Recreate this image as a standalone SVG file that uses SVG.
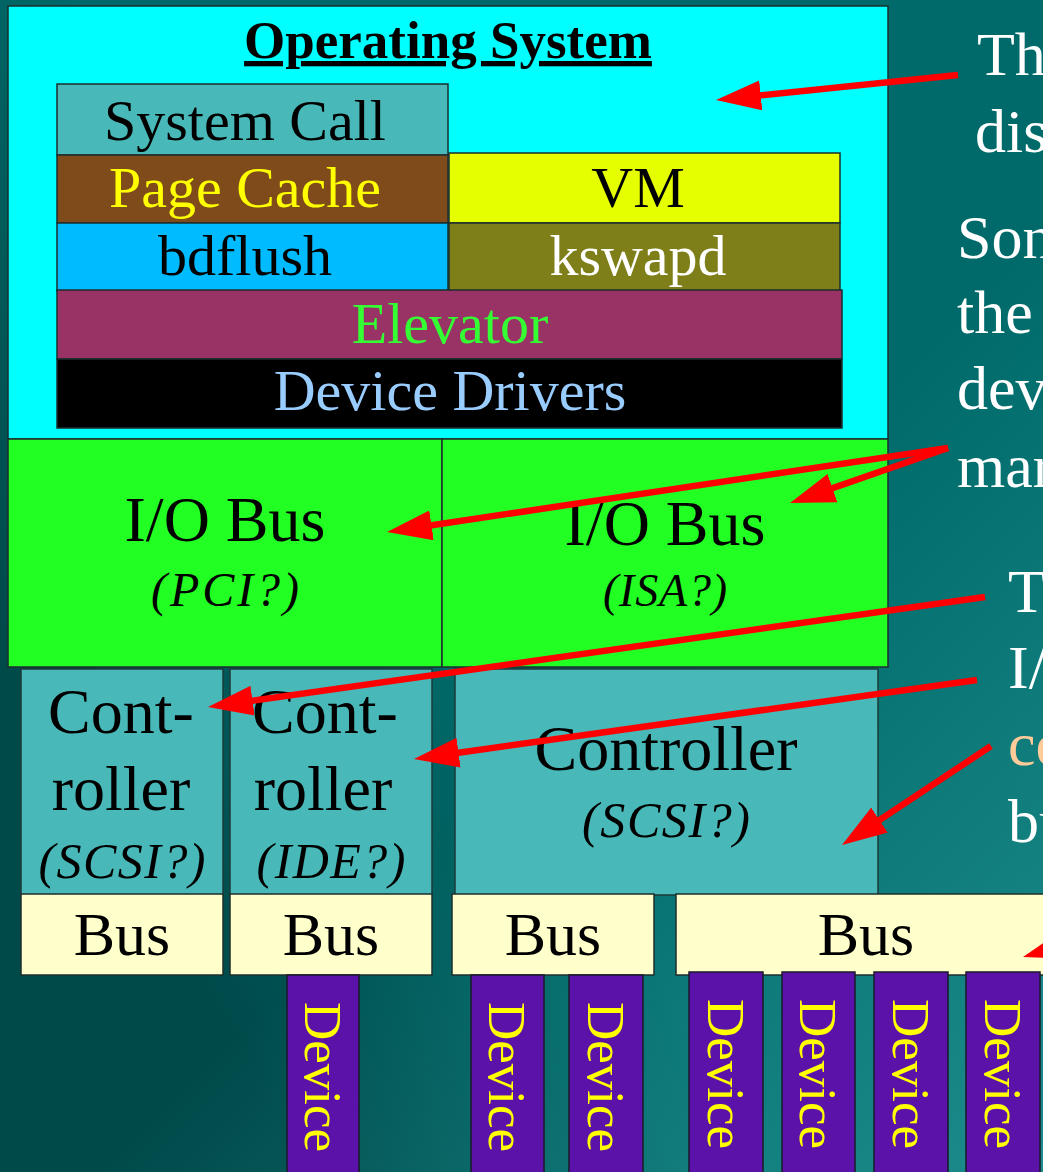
<svg xmlns="http://www.w3.org/2000/svg" width="1043" height="1172" viewBox="0 0 1043 1172">
<defs>
<linearGradient id="gDark" gradientUnits="userSpaceOnUse" x1="240" y1="1052" x2="586" y2="851">
<stop offset="0" stop-color="#004a4a" stop-opacity="1"/>
<stop offset="1" stop-color="#004a4a" stop-opacity="0"/>
</linearGradient>
<linearGradient id="gLight" x1="1" y1="1" x2="0.6" y2="0.55">
<stop offset="0" stop-color="#2a9a9a" stop-opacity="0.7"/>
<stop offset="1" stop-color="#2a9a9a" stop-opacity="0"/>
</linearGradient>
<marker id="ah" markerUnits="userSpaceOnUse" markerWidth="46" markerHeight="30" refX="25" refY="15" orient="auto">
<path d="M0,0 L45,15 L0,30 Z" fill="#ff0000"/>
</marker>
<style>
text{font-family:"Liberation Serif","Times New Roman",serif;text-anchor:middle}
.b{stroke:#1c2e2e;stroke-width:1.5}
.t58{font-size:58px}
.t64{font-size:64px}
.it{font-style:italic}
.rt{fill:#ffffff;font-size:62px;text-anchor:start}
.dev{fill:#5b12a8;stroke:#1a1a2a;stroke-width:1.5}
.dt{fill:#ffff00;font-size:53px;text-anchor:start}
.bus{fill:#ffffcc;stroke:#1c2e2e;stroke-width:1.5}
.ctl{fill:#48b8b8;stroke:#1c3a3a;stroke-width:1.5}
.arr{stroke:#ff0000;stroke-width:6.5;fill:none;marker-end:url(#ah)}
</style>
</defs>
<rect width="1043" height="1172" fill="#006a6a"/>
<rect width="1043" height="1172" fill="url(#gDark)"/>
<rect width="1043" height="1172" fill="url(#gLight)"/>

<g id="os">
<rect x="8" y="6" width="880" height="433" fill="#00ffff" class="b"/>
<text x="448" y="58" font-size="53" font-weight="bold" text-decoration="underline">Operating System</text>
</g>
<g id="syscall"><rect x="57" y="84" width="391" height="71" fill="#48b8b8" class="b"/><text x="245" y="140" class="t58">System Call</text></g>
<g id="pagecache"><rect x="57" y="155" width="391" height="68" fill="#7f4b1a" class="b"/><text x="245" y="207" class="t58" fill="#ffff00">Page Cache</text></g>
<g id="vm"><rect x="449" y="153" width="391" height="70" fill="#e5ff00" class="b"/><text x="638" y="207" class="t58">VM</text></g>
<g id="bdflush"><rect x="57" y="223" width="391" height="68" fill="#00bbff" class="b"/><text x="245" y="275" class="t58">bdflush</text></g>
<g id="kswapd"><rect x="449" y="223" width="391" height="68" fill="#7f7f1a" class="b"/><text x="638" y="275" class="t58" fill="#ffffff">kswapd</text></g>
<g id="elevator"><rect x="57" y="290" width="785" height="69" fill="#993366" class="b"/><text x="450" y="343" class="t58" fill="#33ff33">Elevator</text></g>
<g id="drivers"><rect x="57" y="359" width="785" height="69" fill="#000000" class="b"/><text x="450" y="410" class="t58" fill="#99ccff">Device Drivers</text></g>

<g id="iobus-pci"><rect x="8" y="439" width="434" height="228" fill="#22ff22" class="b"/><text x="225" y="541" class="t64">I/O Bus</text><text x="225" y="606" font-size="48" class="it" textLength="148">(PCI?)</text></g>
<g id="iobus-isa"><rect x="442" y="439" width="446" height="228" fill="#22ff22" class="b"/><text x="665" y="545" class="t64">I/O Bus</text><text x="665" y="606" font-size="46" class="it" textLength="124">(ISA?)</text></g>

<g id="ctl1"><rect x="21" y="669" width="202" height="226" class="ctl"/><text x="121" y="733" class="t64">Cont-</text><text x="121" y="810" class="t64">roller</text><text x="122" y="878" font-size="50" class="it" textLength="167">(SCSI?)</text></g>
<g id="ctl2"><rect x="230" y="669" width="202" height="226" class="ctl"/><text x="325" y="733" class="t64">Cont-</text><text x="323" y="810" class="t64">roller</text><text x="331" y="878" font-size="50" class="it" textLength="149">(IDE?)</text></g>
<g id="ctl3"><rect x="455" y="669" width="423" height="226" class="ctl"/><text x="666" y="770" class="t64">Controller</text><text x="666" y="837" font-size="50" class="it" textLength="168">(SCSI?)</text></g>

<g id="bus1"><rect x="21" y="894" width="202" height="81" class="bus"/><text x="122" y="955" font-size="62">Bus</text></g>
<g id="bus2"><rect x="230" y="894" width="202" height="81" class="bus"/><text x="331" y="955" font-size="62">Bus</text></g>
<g id="bus3"><rect x="452" y="894" width="202" height="81" class="bus"/><text x="553" y="955" font-size="62">Bus</text></g>
<g id="bus4"><rect x="676" y="894" width="380" height="81" class="bus"/><text x="866" y="955" font-size="62">Bus</text></g>

<g id="dev1"><rect x="287" y="975" width="72" height="200" class="dev"/><text class="dt" transform="translate(305,1002) rotate(90)">Device</text></g>
<g id="dev2"><rect x="471" y="975" width="73" height="200" class="dev"/><text class="dt" transform="translate(489,1002) rotate(90)">Device</text></g>
<g id="dev3"><rect x="569" y="975" width="74" height="200" class="dev"/><text class="dt" transform="translate(588,1002) rotate(90)">Device</text></g>
<g id="dev4"><rect x="689" y="972" width="74" height="203" class="dev"/><text class="dt" transform="translate(708,999) rotate(90)">Device</text></g>
<g id="dev5"><rect x="782" y="972" width="73" height="203" class="dev"/><text class="dt" transform="translate(800,999) rotate(90)">Device</text></g>
<g id="dev6"><rect x="874" y="972" width="74" height="203" class="dev"/><text class="dt" transform="translate(893,999) rotate(90)">Device</text></g>
<g id="dev7"><rect x="966" y="972" width="74" height="203" class="dev"/><text class="dt" transform="translate(985,999) rotate(90)">Device</text></g>

<g id="notes">
<text class="rt" x="977" y="75">Th</text>
<text class="rt" x="975" y="152">dis</text>
<text class="rt" x="957" y="258">Son</text>
<text class="rt" x="957" y="333">the</text>
<text class="rt" x="957" y="409">dev</text>
<text class="rt" x="957" y="487">mar</text>
<text class="rt" x="1008" y="612">T</text>
<text class="rt" x="1008" y="688">I/</text>
<text class="rt" x="1008" y="765" style="fill:#ffcc99">co</text>
<text class="rt" x="1008" y="842">bu</text>
</g>

<g id="connectors">
<line class="arr" x1="958" y1="75" x2="735.9" y2="97.9"/>
<line class="arr" x1="948" y1="448" x2="406.8" y2="529"/>
<line class="arr" x1="948" y1="448" x2="808.9" y2="496.4"/>
<line class="arr" x1="985" y1="597" x2="227.8" y2="704.2"/>
<line class="arr" x1="977" y1="680" x2="433.8" y2="756.2"/>
<line class="arr" x1="991" y1="746" x2="858.7" y2="833.9"/>
<line class="arr" x1="1100" y1="935" x2="1042.2" y2="951.5"/>
</g>
</svg>
